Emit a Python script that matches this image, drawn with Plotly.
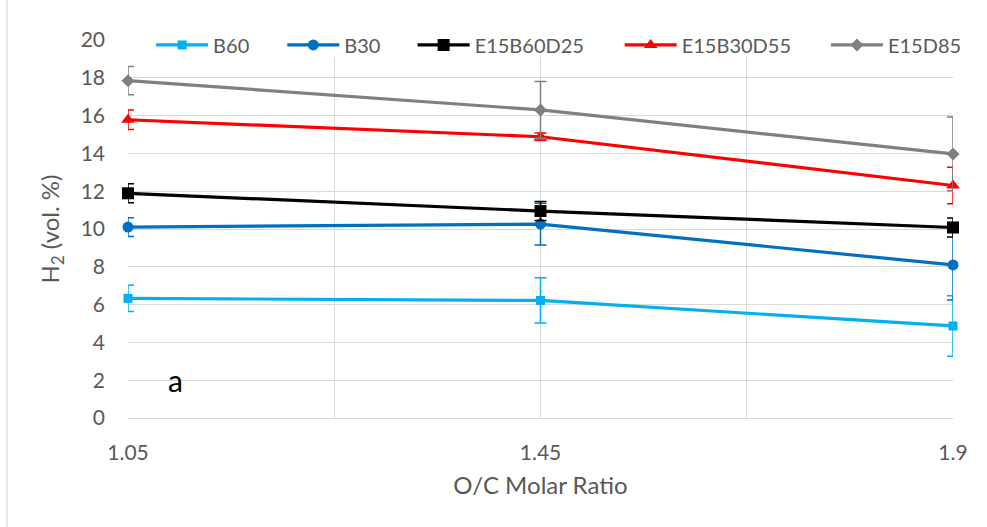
import plotly.graph_objects as go

categories = ["1.05", "1.45", "1.9"]
series_names = ["B60", "B30", "E15B60D25", "E15B30D55", "E15D85"]
b60 = [6.33, 6.22, 4.87]
b30 = [10.1, 10.26, 8.1]
e15b60d25 = [11.89, 10.95, 10.08]
e15b30d55 = [15.78, 14.88, 12.3]
e15d85 = [17.85, 16.3, 13.97]
b60_err = [0.7, 1.2, 1.6]
b30_err = [0.5, 1.1, 1.85]
e15b60d25_err = [0.5, 0.5, 0.5]
e15b30d55_err = [0.52, 0.2, 0.97]
e15d85_err = [0.75, 1.5, 1.95]
y_ticks = [0, 2, 4, 6, 8, 10, 12, 14, 16, 18, 20]

values = [b60, b30, e15b60d25, e15b30d55, e15d85]
errors = [b60_err, b30_err, e15b60d25_err, e15b30d55_err, e15d85_err]
colors = ["#00B0F0", "#0070C0", "#000000", "#FF0000", "#808080"]
symbols = ["square", "circle", "square", "triangle-up", "diamond"]
sizes = [9, 11, 12, 12, 10]
legend_x = [0.028, 0.187, 0.345, 0.596, 0.846]

xpos = list(range(len(categories)))
fig = go.Figure()
legend_ids = ["legend", "legend2", "legend3", "legend4", "legend5"]
for name, v, e, c, s, sz, lid in zip(series_names, values, errors, colors, symbols, sizes, legend_ids):
    fig.add_trace(go.Scatter(
        x=xpos, y=v, name=name, mode="lines+markers",
        line=dict(color=c, width=3.2),
        marker=dict(symbol=s, size=sz, color=c),
        error_y=dict(type="data", array=e, visible=True, color=c, thickness=1.5, width=6),
        cliponaxis=False, legend=lid,
    ))

font_family = "Lato, 'Open Sans', sans-serif"
fig.add_annotation(x=0.114, y=2.0, xref="x", yref="y", text="a", showarrow=False,
                   font=dict(family=font_family, size=30, color="#000000"))

legend_common = dict(orientation="h", xanchor="left", y=0.987, yanchor="middle",
                     bgcolor="rgba(0,0,0,0)", font=dict(size=20, color="#595959"),
                     itemwidth=52)
layout_legends = {lid: dict(x=lx, **legend_common) for lid, lx in zip(legend_ids, legend_x)}

fig.update_layout(
    width=987, height=527,
    margin=dict(l=128, r=34, t=40, b=109),
    paper_bgcolor="white", plot_bgcolor="white",
    font=dict(family=font_family, size=21, color="#595959"),
    showlegend=True,
    xaxis=dict(range=[0, 2], tickvals=xpos, ticktext=categories, showgrid=True,
               gridcolor="#D9D9D9", gridwidth=1.3, zeroline=False, showline=False,
               ticks="", ticklabelstandoff=20,
               minor=dict(tickvals=[0.5, 1.5], showgrid=True, gridcolor="#D9D9D9", gridwidth=1.3),
               title=dict(text="O/C Molar Ratio", standoff=14, font=dict(size=24))),
    yaxis=dict(range=[0, 20], tickvals=y_ticks, showgrid=True, gridcolor="#D9D9D9",
               gridwidth=1.3, zeroline=True, zerolinecolor="#D9D9D9", zerolinewidth=1.3,
               showline=False, ticks="", ticklabelstandoff=22,
               title=dict(text="H<sub>2</sub> (vol. %)", standoff=14, font=dict(size=24))),
    **layout_legends,
)
# legend background strip (hides vertical gridlines behind the legend, like the original)
fig.add_shape(type="rect", xref="paper", yref="paper", x0=0.004, x1=0.996, y0=0.955, y1=0.996,
              fillcolor="white", line=dict(width=0), layer="above")
fig.add_shape(type="line", xref="paper", yref="paper", x0=-0.1467, x1=-0.1467, y0=-0.3, y1=1.12,
              line=dict(color="#D9D9D9", width=1.3))
fig.write_html("out.html")
